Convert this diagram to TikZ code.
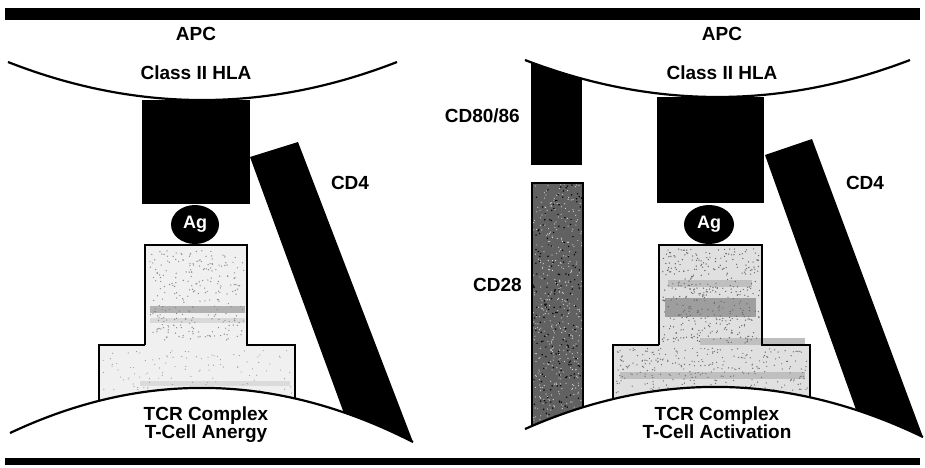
\documentclass[tikz,border=0pt]{standalone}
\usepackage{fontspec}
\setmainfont{Liberation Sans}
\usetikzlibrary{shapes.geometric}
\begin{document}
\begin{tikzpicture}[x=1pt,y=-1pt,
  lbl/.style={font=\fontsize{19}{18}\selectfont\bfseries, inner sep=0pt, align=center},
  membrane/.style={line width=2.2pt},
  blk/.style={fill=black},
  tcrline/.style={line width=1.8pt},
  barstyle/.style={fill=black}]
\useasboundingbox (0,0) rectangle (925,467);
\pgfmathsetseed{7}
% bars
\fill[barstyle] (5,8) rectangle (920,20);
\fill[barstyle] (5,458) rectangle (920,465);

% ===================== LEFT PANEL =====================
\node[blk, minimum width=108pt, minimum height=104pt, inner sep=0pt] (hlaL) at (196,152) {};
\node[ellipse, fill=black, minimum width=48pt, minimum height=39pt, inner sep=0pt, text=white,
  font=\fontsize{18}{20}\selectfont\bfseries] (agL) at (195,224.5) {Ag};
\begin{scope}
  \clip (0,0) -- (0,433) -- (10,433) .. controls (143.7,370) and (278,373) .. (413,442) -- (460,442) -- (460,0) -- cycle;
  \fill[black!6] (145,244) -- (247,244) -- (247,345) -- (295,345) -- (295,450) -- (99,450) -- (99,345) -- (145,345) -- cycle;
  \fill[black!30] (150,306) rectangle (245,313);
  \fill[black!15] (150,318) rectangle (245,323);
  \fill[black!14] (140,381) rectangle (290,386);
  \foreach \i in {1,...,260} {
    \pgfmathsetmacro\px{150+95*rnd}
    \pgfmathsetmacro\py{250+90*rnd}
    \fill[black!45] (\px,\py) circle (0.7);
  }
  \foreach \i in {1,...,120} {
    \pgfmathsetmacro\px{102+190*rnd}
    \pgfmathsetmacro\py{350+45*rnd}
    \fill[black!40] (\px,\py) circle (0.6);
  }
  \draw[tcrline] (145,345) -- (145,245) -- (247,245) -- (247,345) -- (295,345) -- (295,450)
                 (99,450) -- (99,345) -- (145,345);
  % CD4
  \fill[black] (250,157) -- (298,142) -- (413,442) -- (357.4,450) -- cycle;
\end{scope}
\draw[membrane] (8,62) .. controls (137.3,112.7) and (267,112.7) .. (397,62);
\draw[membrane] (10,433) .. controls (143.7,370) and (278,373) .. (413,442);
\node[lbl] (apcL) at (196,34) {APC};
\node[lbl] (hlaLtxt) at (196,73) {Class II HLA};
\node[lbl] (cd4L) at (350,183) {CD4};
\node[lbl, anchor=north] (tcrL) at (206,407) {TCR Complex\\T-Cell Anergy};

% ===================== RIGHT PANEL =====================
\node[blk, minimum width=107pt, minimum height=106pt, inner sep=0pt] (hlaR) at (710.5,150) {};
\node[ellipse, fill=black, minimum width=50pt, minimum height=39pt, inner sep=0pt, text=white,
  font=\fontsize{18}{20}\selectfont\bfseries] (agR) at (709,224.5) {Ag};
\begin{scope}
  \clip (525,60) .. controls (653.3,109.3) and (781.7,109.3) .. (910,60) -- (910,200) -- (525,200) -- cycle;
  \fill[black] (531,50) rectangle (582,165);
\end{scope}
\begin{scope}
  \clip (460,0) -- (460,429) -- (525,429) .. controls (657.7,370.3) and (790.3,373) .. (923,437) -- (925,437) -- (925,0) -- cycle;
  % CD28
  \fill[black!62] (532,183) rectangle (583,450);
  \foreach \i in {1,...,420} {
    \pgfmathsetmacro\px{533+49*rnd}
    \pgfmathsetmacro\py{184+240*rnd}
    \fill[black!15] (\px,\py) circle (0.6);
  }
  \foreach \i in {1,...,200} {
    \pgfmathsetmacro\px{533+49*rnd}
    \pgfmathsetmacro\py{184+240*rnd}
    \fill[black] (\px,\py) circle (0.8);
  }
  \draw[line width=1.6pt] (532,450) -- (532,183) -- (583,183) -- (583,450);
  % TCR
  \fill[black!12] (659,244) -- (762,244) -- (762,345) -- (810,345) -- (810,450) -- (613,450) -- (613,345) -- (659,345) -- cycle;
  \fill[black!25] (668,280) rectangle (752,287);
  \fill[black!38] (665,298) rectangle (756,317);
  \fill[black!25] (700,338) rectangle (805,345);
  \fill[black!25] (620,372) rectangle (805,379);
  \foreach \i in {1,...,380} {
    \pgfmathsetmacro\px{662+98*rnd}
    \pgfmathsetmacro\py{248+95*rnd}
    \fill[black!60] (\px,\py) circle (0.7);
  }
  \foreach \i in {1,...,300} {
    \pgfmathsetmacro\px{616+192*rnd}
    \pgfmathsetmacro\py{348+45*rnd}
    \fill[black!55] (\px,\py) circle (0.7);
  }
  \draw[tcrline] (659,345) -- (659,245) -- (762,245) -- (762,345) -- (810,345) -- (810,450)
                 (613,450) -- (613,345) -- (659,345);
  % CD4
  \fill[black] (765,155) -- (812,139) -- (923,437) -- (870.4,450) -- cycle;
\end{scope}
\draw[membrane] (525,60) .. controls (653.3,109.3) and (781.7,109.3) .. (910,60);
\draw[membrane] (525,429) .. controls (657.7,370.3) and (790.3,373) .. (923,437);
\node[lbl] (apcR) at (722,34) {APC};
\node[lbl] (hlaRtxt) at (722,73) {Class II HLA};
\node[lbl, anchor=east] (cd80) at (520,116) {CD80/86};
\node[lbl, anchor=east] (cd28) at (522,285) {CD28};
\node[lbl] (cd4R) at (865,183) {CD4};
\node[lbl, anchor=north] (tcrR) at (717,407) {TCR Complex\\T-Cell Activation};
\end{tikzpicture}
\end{document}
